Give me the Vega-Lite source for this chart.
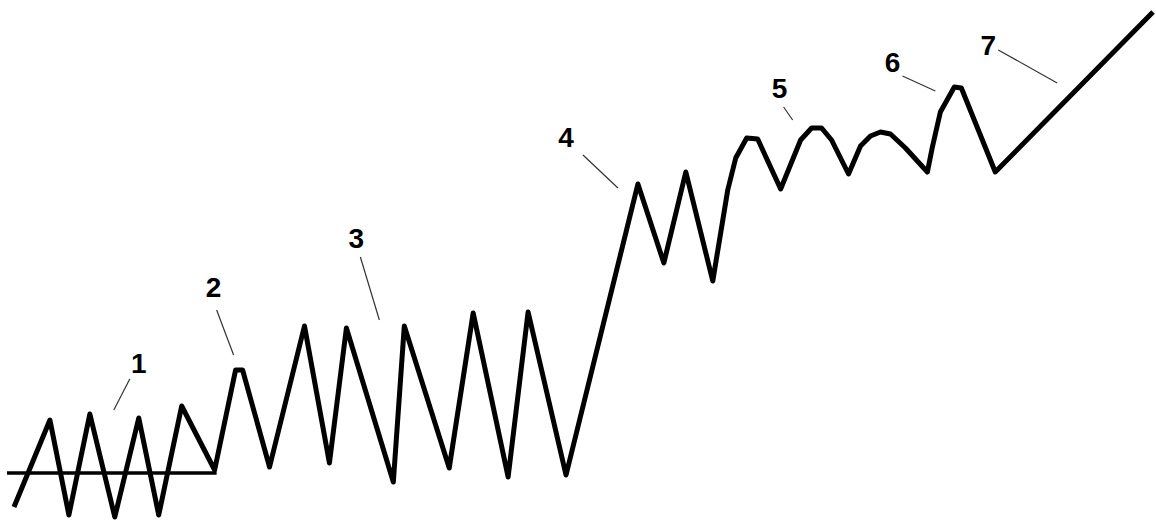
{
  "$schema": "https://vega.github.io/schema/vega-lite/v6.json",
  "width": 1156,
  "height": 525,
  "padding": 0,
  "autosize": {"type": "fit", "contains": "padding"},
  "background": "white",
  "config": {"view": {"stroke": null}},
  "datasets": {
    "wave": [
      {"i": 1, "x": 12, "y": 18}, {"i": 2, "x": 48, "y": 105}, {"i": 3, "x": 67, "y": 10},
      {"i": 4, "x": 88, "y": 111}, {"i": 5, "x": 113, "y": 8}, {"i": 6, "x": 137, "y": 107},
      {"i": 7, "x": 157, "y": 10}, {"i": 8, "x": 180, "y": 119}, {"i": 9, "x": 213, "y": 55},
      {"i": 10, "x": 234, "y": 155}, {"i": 10.5, "x": 241, "y": 155}, {"i": 11, "x": 268, "y": 58}, {"i": 12, "x": 303, "y": 199},
      {"i": 13, "x": 328, "y": 62}, {"i": 14, "x": 345, "y": 197}, {"i": 15, "x": 392, "y": 43},
      {"i": 16, "x": 403, "y": 199}, {"i": 17, "x": 448, "y": 57}, {"i": 18, "x": 472, "y": 212},
      {"i": 19, "x": 507, "y": 48}, {"i": 20, "x": 527, "y": 213}, {"i": 21, "x": 565, "y": 50},
      {"i": 22, "x": 637, "y": 341}, {"i": 23, "x": 663, "y": 262}, {"i": 24, "x": 685, "y": 353},
      {"i": 25, "x": 712, "y": 244}, {"i": 26, "x": 727, "y": 335}, {"i": 27, "x": 735, "y": 367},
      {"i": 28, "x": 746, "y": 387}, {"i": 29, "x": 757, "y": 386}, {"i": 30, "x": 780, "y": 336},
      {"i": 31, "x": 800, "y": 385}, {"i": 32, "x": 811, "y": 397}, {"i": 33, "x": 821, "y": 397},
      {"i": 34, "x": 831, "y": 385}, {"i": 35, "x": 848, "y": 351}, {"i": 36, "x": 860, "y": 379},
      {"i": 37, "x": 870, "y": 389}, {"i": 38, "x": 880, "y": 393}, {"i": 39, "x": 890, "y": 391},
      {"i": 40, "x": 905, "y": 377}, {"i": 41, "x": 927, "y": 353}, {"i": 42, "x": 932, "y": 378},
      {"i": 43, "x": 940, "y": 413}, {"i": 44, "x": 954, "y": 438}, {"i": 45, "x": 961, "y": 437},
      {"i": 46, "x": 995, "y": 353}, {"i": 47, "x": 1153, "y": 513}
    ],
    "base": [{"x": 5, "y": 52}, {"x": 215, "y": 52}],
    "leaders": [
      {"x": 128, "y": 146, "x2": 112, "y2": 115},
      {"x": 215, "y": 215, "x2": 232, "y2": 170},
      {"x": 359, "y": 268, "x2": 378, "y2": 205},
      {"x": 582, "y": 370, "x2": 617, "y2": 337},
      {"x": 783, "y": 418, "x2": 792, "y2": 405},
      {"x": 902, "y": 449, "x2": 935, "y2": 434},
      {"x": 998, "y": 475, "x2": 1057, "y2": 442}
    ],
    "labels": [
      {"x": 137, "y": 152, "t": "1"}, {"x": 212, "y": 228, "t": "2"}, {"x": 355, "y": 277, "t": "3"},
      {"x": 565, "y": 378, "t": "4"}, {"x": 779, "y": 427, "t": "5"}, {"x": 892, "y": 453, "t": "6"},
      {"x": 988, "y": 470, "t": "7"}
    ]
  },
  "layer": [
    {
      "data": {"name": "base"},
      "mark": {"type": "line", "color": "black", "strokeWidth": 3.5, "strokeCap": "butt"},
      "encoding": {
        "x": {"field": "x", "type": "quantitative", "scale": {"domain": [0, 1156], "nice": false, "zero": false}, "axis": null},
        "y": {"field": "y", "type": "quantitative", "scale": {"domain": [0, 525], "nice": false, "zero": false}, "axis": null}
      }
    },
    {
      "data": {"name": "wave"},
      "mark": {"type": "line", "color": "black", "strokeWidth": 5, "strokeJoin": "round", "strokeCap": "butt"},
      "encoding": {
        "x": {"field": "x", "type": "quantitative", "scale": {"domain": [0, 1156], "nice": false, "zero": false}, "axis": null},
        "y": {"field": "y", "type": "quantitative", "scale": {"domain": [0, 525], "nice": false, "zero": false}, "axis": null},
        "order": {"field": "i", "type": "quantitative"}
      }
    },
    {
      "data": {"name": "leaders"},
      "mark": {"type": "rule", "color": "#333333", "strokeWidth": 1.2},
      "encoding": {
        "x": {"field": "x", "type": "quantitative", "scale": {"domain": [0, 1156], "nice": false, "zero": false}, "axis": null},
        "y": {"field": "y", "type": "quantitative", "scale": {"domain": [0, 525], "nice": false, "zero": false}, "axis": null},
        "x2": {"field": "x2"},
        "y2": {"field": "y2"}
      }
    },
    {
      "data": {"name": "labels"},
      "mark": {"type": "text", "color": "black", "font": "Liberation Sans", "fontSize": 28, "fontWeight": "bold", "align": "center", "baseline": "alphabetic"},
      "encoding": {
        "x": {"field": "x", "type": "quantitative", "scale": {"domain": [0, 1156], "nice": false, "zero": false}, "axis": null},
        "y": {"field": "y", "type": "quantitative", "scale": {"domain": [0, 525], "nice": false, "zero": false}, "axis": null},
        "text": {"field": "t", "type": "nominal"}
      }
    }
  ]
}
